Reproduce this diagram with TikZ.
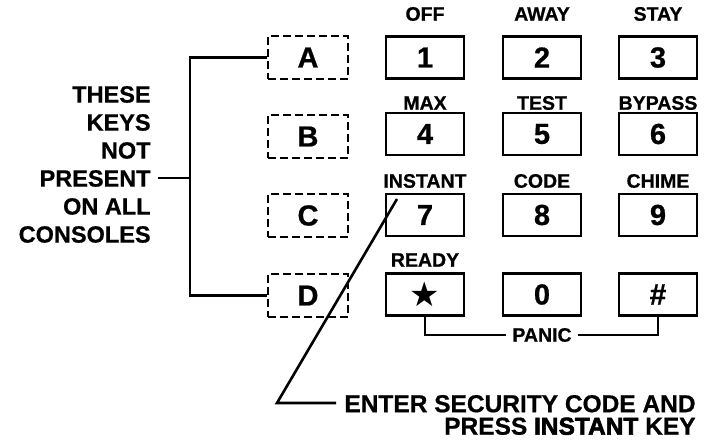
\documentclass[tikz,border=0pt]{standalone}
\usepackage{fontspec}
\setmainfont{Liberation Sans}[BoldFeatures={FakeBold=0.7}]
\newfontface\heavy{Liberation Sans Bold}[FakeBold=2.5]
\newfontfamily\symfont{DejaVu Sans}
\begin{document}
\begin{tikzpicture}[x=1pt,y=-1pt,
  line width=2.8pt,
  keybox/.style={draw, line width=2.8pt, minimum width=78pt, minimum height=42pt, inner sep=0pt, font=\fontsize{29}{29}\selectfont\bfseries},
  dkey/.style={keybox, dash pattern=on 8pt off 4pt, minimum width=80pt, minimum height=43pt},
  lbl/.style={inner sep=0pt, font=\fontsize{19.5}{19.5}\selectfont\bfseries},
  big/.style={inner sep=0pt, font=\fontsize{23.5}{28}\selectfont\bfseries},
  lead/.style={line width=2.6pt}]
\useasboundingbox (0,0) rectangle (709,446);
% optional keys
\node[dkey] (A) at (308,57.5) {A};
\node[dkey] (B) at (308,136.5) {B};
\node[dkey] (C) at (308,215.5) {C};
\node[dkey] (D) at (308,295.5) {D};
% keypad
\node[keybox] (k1) at (425,57.5) {1};
\node[keybox] (k2) at (542,57.5) {2};
\node[keybox] (k3) at (658,57.5) {3};
\node[keybox] (k4) at (425,134) {4};
\node[keybox] (k5) at (542,134) {5};
\node[keybox] (k6) at (658,134) {6};
\node[keybox] (k7) at (425,215) {7};
\node[keybox] (k8) at (542,215) {8};
\node[keybox] (k9) at (658,215) {9};
\node[keybox] (ks) at (425,294.5) {\symfont\fontsize{34}{34}\selectfont ★};
\node[keybox] (k0) at (542,294.5) {0};
\node[keybox] (kh) at (658,294.5) {\fontsize{30}{30}\selectfont\#};
% labels
\node[lbl] (l1) at (425,14) {OFF};
\node[lbl] (l2) at (542,14) {AWAY};
\node[lbl] (l3) at (658,14) {STAY};
\node[lbl] (l4) at (425,103) {MAX};
\node[lbl] (l5) at (542,103) {TEST};
\node[lbl] (l6) at (658,103) {BYPASS};
\node[lbl] (l7) at (425,181) {INSTANT};
\node[lbl] (l8) at (542,181) {CODE};
\node[lbl] (l9) at (658,181) {CHIME};
\node[lbl] (ls) at (425,260) {READY};
\node[lbl, inner xsep=5pt] (panic) at (542,335) {PANIC};
% left note
\node[big, align=right, anchor=east] (note) at (152,164.5) {THESE\\KEYS\\NOT\\PRESENT\\ON ALL\\CONSOLES};
\coordinate (pr) at (158,178);
\coordinate (br) at (190,0);
\draw[lead] (A.west) -- (A.west -| br) |- (D.west);
\draw[lead] (pr) -- (pr -| br);
% panic bracket
\draw[lead] (ks.south) |- (panic.west);
\draw[lead] (kh.south) |- (panic.east);
% instruction
\node[inner sep=0pt, align=right, anchor=east, font=\fontsize{24.5}{22.5}\selectfont\bfseries] (e) at (697,415) {ENTER SECURITY CODE AND\\PRESS {\heavy INSTANT} KEY};
\coordinate (in7) at (397,199);
\coordinate (bend) at (277,403);
\coordinate (eend) at ([xshift=-7pt]e.west |- bend);
\draw[lead] (in7) -- (bend) -- (eend);
\end{tikzpicture}
\end{document}
